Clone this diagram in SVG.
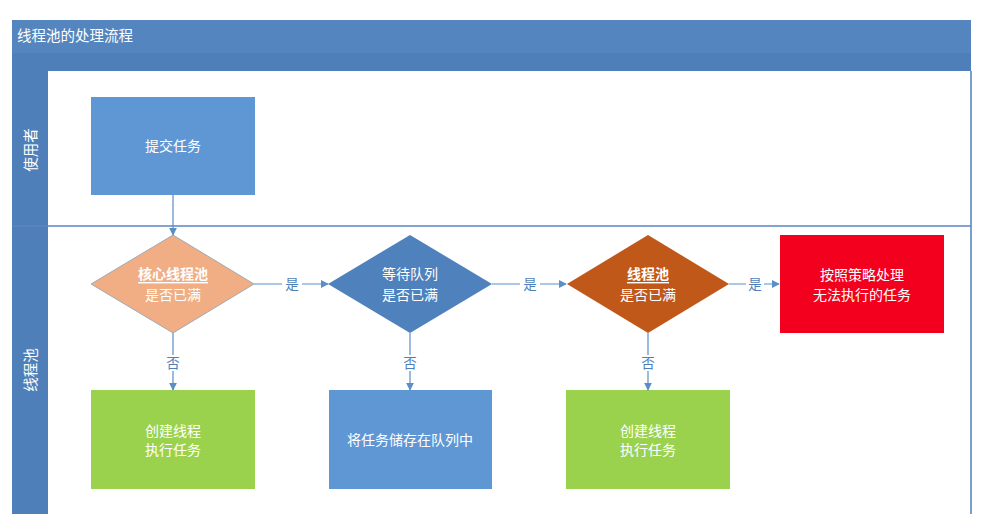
<svg xmlns="http://www.w3.org/2000/svg" width="982" height="531" viewBox="0 0 982 531">
<style>
text{font-family:"Liberation Sans","Noto Sans CJK SC",sans-serif;font-size:14px;fill:#fff;text-anchor:middle;dominant-baseline:central}
.lbl{fill:#4f7fb8;font-size:13.5px}
.conn{stroke:#5b8dc8;stroke-width:1.2;fill:none}
.b{font-weight:bold;text-decoration:underline}
</style>
<defs>
<marker id="ah" viewBox="0 0 10 10" refX="9" refY="5" markerWidth="8" markerHeight="8" orient="auto" markerUnits="userSpaceOnUse">
<path d="M0,0 L10,5 L0,10 z" fill="#5b8dc8"/>
</marker>
</defs>
<rect width="982" height="531" fill="#fff"/>
<g id="pool">
<rect x="12" y="20" width="959" height="33" fill="#5485be"/>
<rect x="12" y="53" width="959" height="18" fill="#4f7fb9"/>
<rect x="12" y="71" width="36" height="443" fill="#4f7fb9"/>
<line x1="971" y1="71" x2="971" y2="514" stroke="#4f7fb9" stroke-width="1.5"/>
<line x1="12" y1="226" x2="971" y2="226" stroke="#5b86c0" stroke-width="1.5"/>
<text x="17" y="36" style="text-anchor:start;font-size:14.5px">线程池的处理流程</text>
<text transform="translate(31,150) rotate(-90)" style="font-size:14.5px">使用者</text>
<text transform="translate(31,370) rotate(-90)" style="font-size:14.5px">线程池</text>
</g>
<g id="submit">
<rect x="91" y="97" width="164" height="98" fill="#5f97d5"/>
<text x="173" y="146">提交任务</text>
</g>
<g id="d1">
<polygon points="173,235 254,284 173,333 91,284" fill="#f1ae84" stroke="#8aa0b8" stroke-width="0.8"/>
<text x="173" y="274" class="b">核心线程池</text>
<text x="173" y="295">是否已满</text>
</g>
<g id="d2">
<polygon points="410,235 492,284 410,333 328,284" fill="#4f81bd"/>
<text x="410" y="274">等待队列</text>
<text x="410" y="295">是否已满</text>
</g>
<g id="d3">
<polygon points="648,235 729,284 648,333 567,284" fill="#c0581a"/>
<text x="648" y="274" class="b">线程池</text>
<text x="648" y="295">是否已满</text>
</g>
<g id="reject">
<rect x="780" y="235" width="164" height="98" fill="#f2001d"/>
<text x="862" y="275">按照策略处理</text>
<text x="862" y="295">无法执行的任务</text>
</g>
<g id="create1">
<rect x="91" y="390" width="164" height="99" fill="#9ad24e"/>
<text x="173" y="431">创建线程</text>
<text x="173" y="450">执行任务</text>
</g>
<g id="store">
<rect x="329" y="390" width="163" height="99" fill="#5f97d5"/>
<text x="410" y="440">将任务储存在队列中</text>
</g>
<g id="create2">
<rect x="566" y="390" width="164" height="99" fill="#9ad24e"/>
<text x="648" y="431">创建线程</text>
<text x="648" y="450">执行任务</text>
</g>
<g id="connectors">
<line class="conn" x1="173" y1="195" x2="173" y2="235" marker-end="url(#ah)"/>
<line class="conn" x1="254" y1="284" x2="328" y2="284" marker-end="url(#ah)"/>
<line class="conn" x1="492" y1="284" x2="566" y2="284" marker-end="url(#ah)"/>
<line class="conn" x1="729" y1="284" x2="779" y2="284" marker-end="url(#ah)"/>
<line class="conn" x1="173" y1="333" x2="173" y2="390" marker-end="url(#ah)"/>
<line class="conn" x1="410" y1="333" x2="410" y2="390" marker-end="url(#ah)"/>
<line class="conn" x1="648" y1="333" x2="648" y2="390" marker-end="url(#ah)"/>
<rect x="282" y="276" width="20" height="16" fill="#fff"/>
<text class="lbl" x="292" y="284">是</text>
<rect x="520" y="276" width="20" height="16" fill="#fff"/>
<text class="lbl" x="530" y="284">是</text>
<rect x="746" y="276" width="18" height="16" fill="#fff"/>
<text class="lbl" x="755" y="284">是</text>
<rect x="165" y="355" width="16" height="16" fill="#fff"/>
<text class="lbl" x="173" y="363">否</text>
<rect x="402" y="355" width="16" height="16" fill="#fff"/>
<text class="lbl" x="410" y="363">否</text>
<rect x="640" y="355" width="16" height="16" fill="#fff"/>
<text class="lbl" x="648" y="363">否</text>
</g>
</svg>
